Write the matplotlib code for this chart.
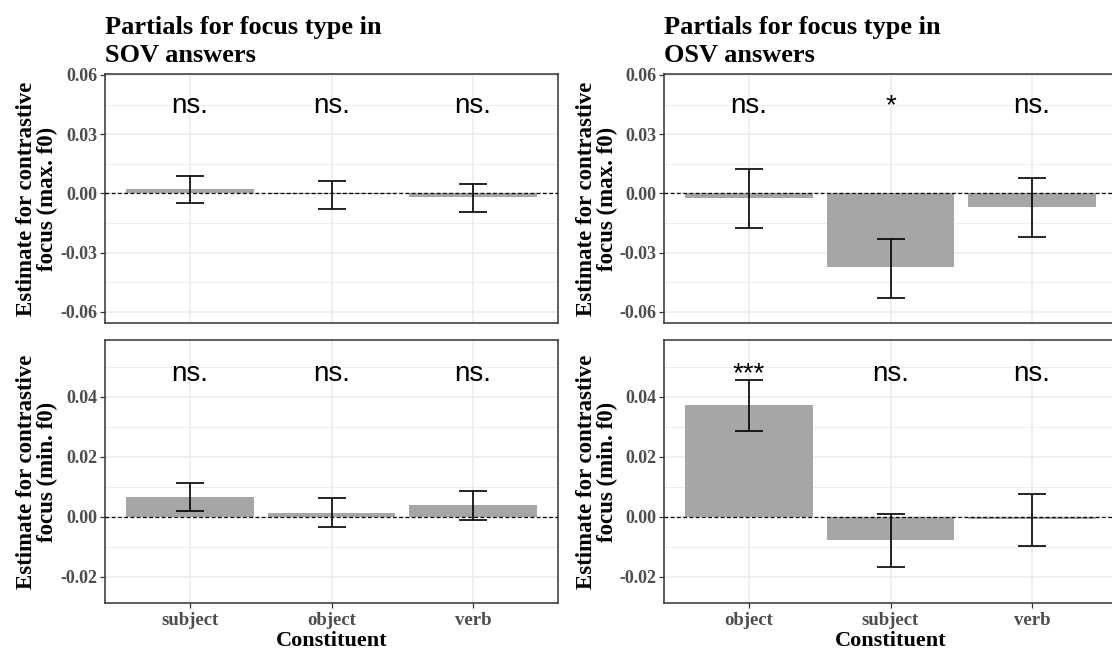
import matplotlib
matplotlib.use("Agg")
import matplotlib.pyplot as plt
import numpy as np

# ---------------- data ----------------
sov_categories = ["subject", "object", "verb"]
osv_categories = ["object", "subject", "verb"]

sov_max_est = [0.0022, -0.0005, -0.0018]
sov_max_lo = [-0.0049, -0.0081, -0.0095]
sov_max_hi = [0.0088, 0.0061, 0.0047]
sov_max_sig = ["ns.", "ns.", "ns."]

osv_max_est = [-0.0025, -0.0375, -0.0071]
osv_max_lo = [-0.0176, -0.0529, -0.0223]
osv_max_hi = [0.0123, -0.0232, 0.0076]
osv_max_sig = ["ns.", "*", "ns."]

sov_min_est = [0.0067, 0.0013, 0.0038]
sov_min_lo = [0.0018, -0.0034, -0.0010]
sov_min_hi = [0.0111, 0.0063, 0.0087]
sov_min_sig = ["ns.", "ns.", "ns."]

osv_min_est = [0.0372, -0.0079, -0.0007]
osv_min_lo = [0.0286, -0.0169, -0.0097]
osv_min_hi = [0.0456, 0.0008, 0.0077]
osv_min_sig = ["***", "ns.", "ns."]

max_ticks = [-0.06, -0.03, 0.00, 0.03, 0.06]
min_ticks = [-0.02, 0.00, 0.02, 0.04]

titles = ["Partials for focus type in\nSOV answers", "Partials for focus type in\nOSV answers"]
ylab_max = "Estimate for contrastive\nfocus (max. f0)"
ylab_min = "Estimate for contrastive\nfocus (min. f0)"
xlab = "Constituent"

# ---------------- style ----------------
W, H = 1112, 649
fig = plt.figure(figsize=(W / 100, H / 100), dpi=100)
SERIF = ["Liberation Serif", "DejaVu Serif"]
SANS = ["Liberation Sans", "DejaVu Sans"]
BAR = "#A6A6A6"
GRID = "#EBEBEB"
TICKTXT = "#4D4D4D"
FRAME = "#333333"


def px_rect(left, top, right, bottom):
    return [left / W, 1 - bottom / H, (right - left) / W, (bottom - top) / H]


def panel(rect, cats, est, lo, hi, sig, ylim, ticks, ylab, ylab_x, sig_y, show_x):
    ax = fig.add_axes(rect)
    x = np.arange(len(cats))
    step = ticks[1] - ticks[0]
    minor = [t + step / 2 for t in [ticks[0] - step] + list(ticks)]
    ax.set_yticks(ticks)
    ax.set_yticks(minor, minor=True)
    ax.set_xticks(x)
    ax.set_xlim(-0.6, len(cats) - 0.4)
    ax.set_ylim(*ylim)
    ax.grid(True, which="major", color=GRID, linewidth=1.1, zorder=0)
    ax.grid(True, which="minor", axis="y", color=GRID, linewidth=0.6, zorder=0)
    ax.set_axisbelow(True)
    ax.bar(x, est, width=0.9, color=BAR, zorder=2)
    ax.axhline(0, color="black", linestyle=(0, (3, 2)), linewidth=0.9, zorder=3)
    est_a = np.array(est)
    yerr = np.vstack([est_a - np.array(lo), np.array(hi) - est_a])
    ax.errorbar(x, est, yerr=yerr, fmt="none", ecolor="black", elinewidth=1.2,
                capsize=10, capthick=1.2, zorder=4)
    for xi, s in zip(x, sig):
        ax.text(xi, sig_y, s, ha="center", va="baseline", fontsize=20,
                family=SANS, color="black", zorder=5)
    ax.set_yticklabels([f"{t:.2f}" for t in ticks], family=SERIF,
                       fontweight="bold", fontsize=13, color=TICKTXT)
    ax.tick_params(axis="y", which="minor", length=0)
    ax.tick_params(axis="both", which="major", length=3.5, width=0.9,
                   color=FRAME, pad=2)
    if show_x:
        ax.set_xticklabels(cats, family=SERIF, fontweight="bold", fontsize=13.5,
                           color=TICKTXT)
        ax.tick_params(axis="x", pad=3)
        ax.set_xlabel(xlab, family=SERIF, fontweight="bold", fontsize=16,
                      color="black", labelpad=1.5)
    else:
        ax.set_xticklabels([])
        ax.tick_params(axis="x", length=0)
    for sp in ax.spines.values():
        sp.set_color(FRAME)
        sp.set_linewidth(1.1)
    fig.text(ylab_x / W, rect[1] + rect[3] / 2, ylab, rotation=90, ha="center",
             va="center", multialignment="center", family=SERIF,
             fontweight="bold", fontsize=16.5, color="black", linespacing=1.0)
    return ax


L1, R1 = 105, 558
L2, R2 = 664, 1117
T1, B1 = 74, 323
T2, B2 = 340, 603

max_lim = (-0.0657, 0.0605)
min_lim = (-0.0288, 0.0589)

panel(px_rect(L1, T1, R1, B1), sov_categories, sov_max_est, sov_max_lo, sov_max_hi,
      sov_max_sig, max_lim, max_ticks, ylab_max, 37, 0.0408, False)
panel(px_rect(L2, T1, R2, B1), osv_categories, osv_max_est, osv_max_lo, osv_max_hi,
      osv_max_sig, max_lim, max_ticks, ylab_max, 597, 0.0408, False)
panel(px_rect(L1, T2, R1, B2), sov_categories, sov_min_est, sov_min_lo, sov_min_hi,
      sov_min_sig, min_lim, min_ticks, ylab_min, 37, 0.0453, True)
panel(px_rect(L2, T2, R2, B2), osv_categories, osv_min_est, osv_min_lo, osv_min_hi,
      osv_min_sig, min_lim, min_ticks, ylab_min, 597, 0.0453, True)

for t, lx in zip(titles, [L1, L2]):
    fig.text(lx / W, 1 - 62 / H, t, ha="left", va="baseline", family=SERIF,
             fontweight="bold", fontsize=19, color="black", linespacing=1.3)

fig.savefig("out.png", dpi=100)
